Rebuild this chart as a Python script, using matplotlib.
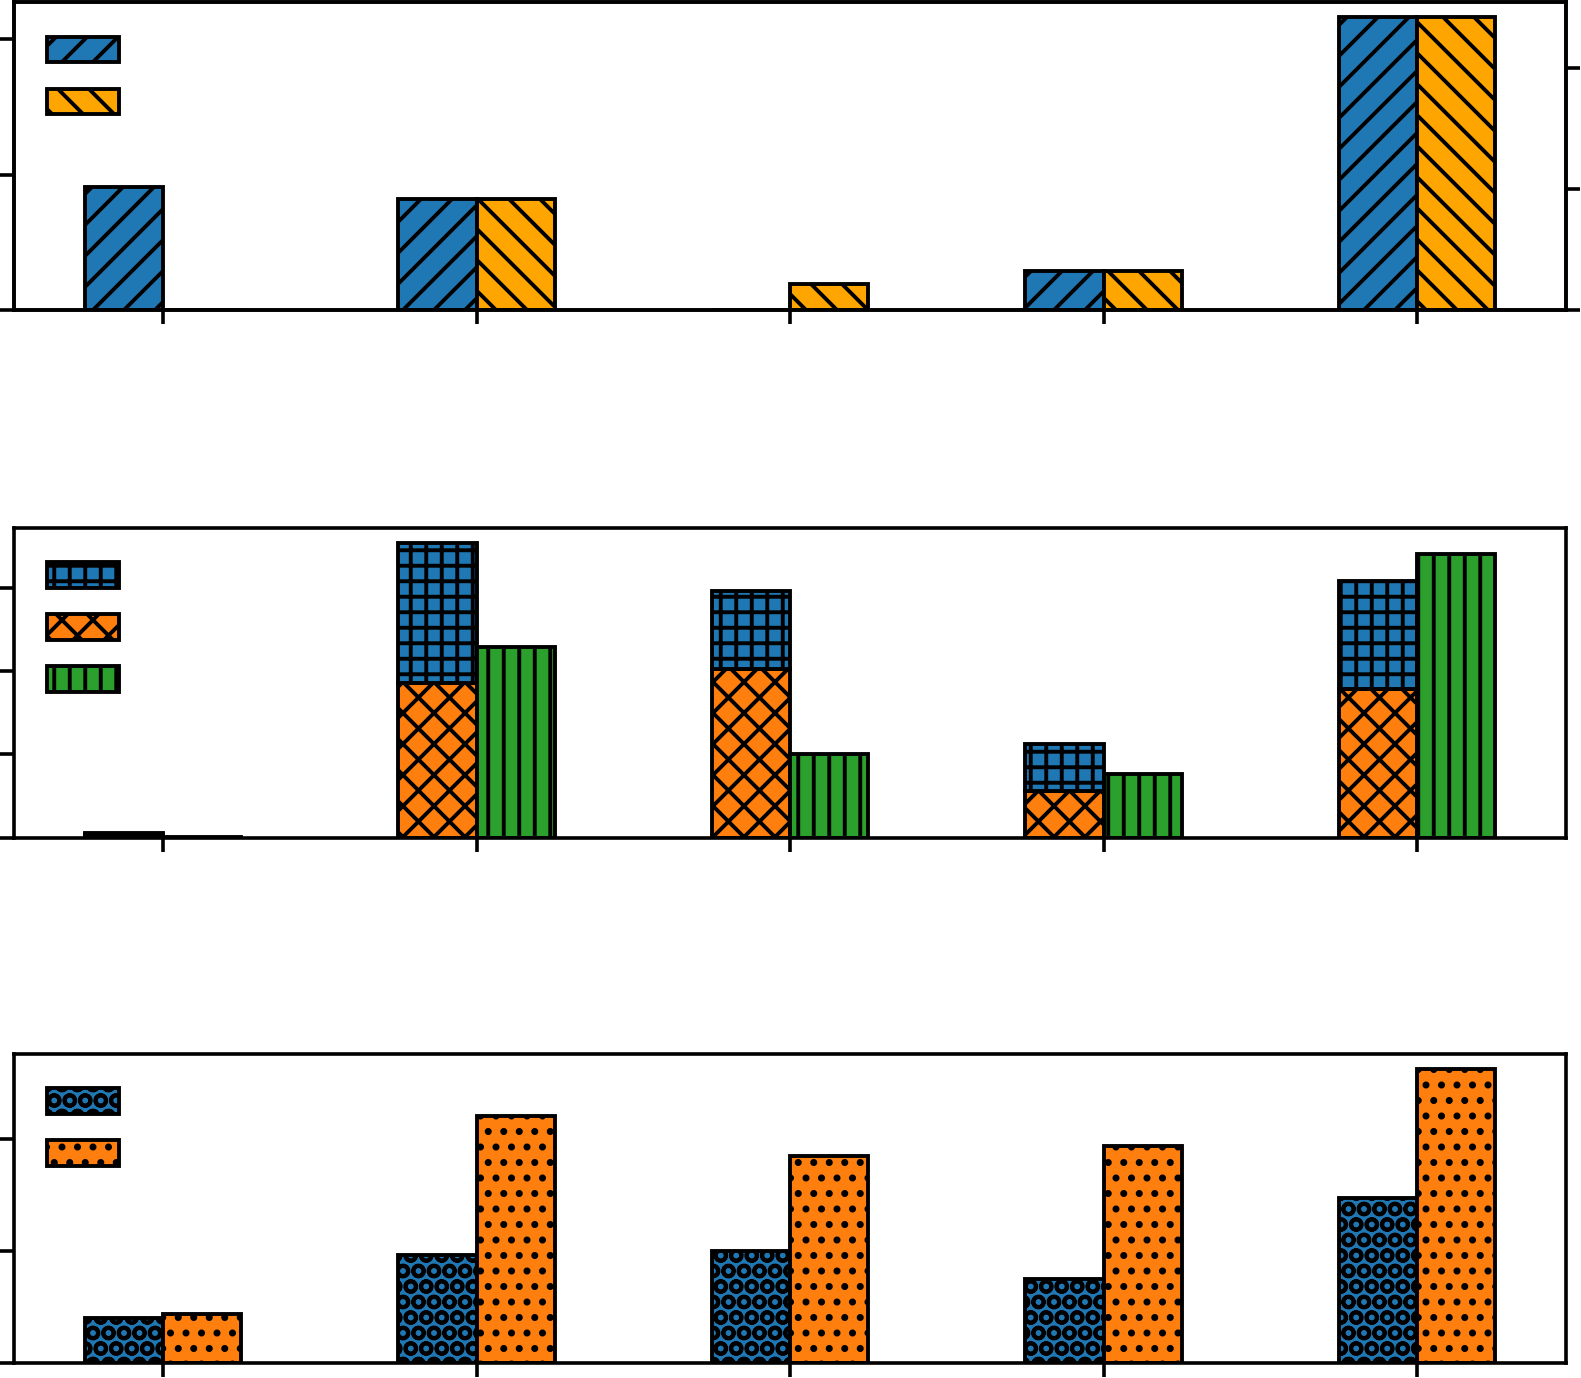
import matplotlib
matplotlib.use('Agg')
import numpy as np
import matplotlib.pyplot as plt

# valeurs (unites = pas des graduations)
groupes = [0, 1, 2, 3, 4]

haut_bleu = [0.91, 0.82, 0.0, 0.29, 2.165]
haut_orange = [0.0, 0.917, 0.218, 0.325, 2.42]

milieu_orange = [0.03, 1.86, 2.02, 0.556, 1.78]
milieu_bleu = [0.03, 1.68, 0.94, 0.57, 1.30]
milieu_vert = [0.01, 2.285, 1.0, 0.76, 3.40]

bas_bleu = [0.40, 0.964, 1.0, 0.748, 1.477]
bas_orange = [0.44, 2.207, 1.847, 1.937, 2.63]

plt.rcParams['hatch.linewidth'] = 1.5
plt.rcParams['axes.linewidth'] = 1.4

largeur = 0.25
x = np.array(groupes)
lw = 1.5

fig = plt.figure(figsize=(1581 / 186, 1378 / 186), dpi=186)
gauche, droite = 0.0089, 0.9905
ax1 = fig.add_axes([gauche, 0.775, droite - gauche, 0.2233])
ax2 = fig.add_axes([gauche, 0.392, droite - gauche, 0.2248])
ax3 = fig.add_axes([gauche, 0.0111, droite - gauche, 0.2240])


def reglages(ax, yt):
    ax.set_xticks(x)
    ax.set_yticks(yt)
    ax.tick_params(length=5.5, width=1.4, labelbottom=False, labelleft=False,
                   labelright=False)


# Graphique du haut : deux axes y
b1 = ax1.bar(x - largeur / 2, haut_bleu, largeur, color='#1f77b4',
             edgecolor='black', linewidth=lw, hatch='//')
ax1b = ax1.twinx()
b2 = ax1b.bar(x + largeur / 2, haut_orange, largeur, color='orange',
              edgecolor='black', linewidth=lw, hatch='\\\\')
reglages(ax1, [0, 1, 2])
reglages(ax1b, [0, 1, 2])
ax1.legend([b1, b2], ['', ''], loc='upper left', frameon=False, fontsize=14)

# Graphique du milieu : barres empilees
c1 = ax2.bar(x - largeur / 2, milieu_orange, largeur, color='#ff7f0e',
             edgecolor='black', linewidth=lw, hatch='xx')
c2 = ax2.bar(x - largeur / 2, milieu_bleu, largeur, bottom=milieu_orange,
             color='#1f77b4', edgecolor='black', linewidth=lw, hatch='++')
c3 = ax2.bar(x + largeur / 2, milieu_vert, largeur, color='#2ca02c',
             edgecolor='black', linewidth=lw, hatch='||')
reglages(ax2, [0, 1, 2, 3])
ax2.legend([c2, c1, c3], ['', '', ''], loc='upper left', frameon=False,
           fontsize=14)

# Graphique du bas
d1 = ax3.bar(x - largeur / 2, bas_bleu, largeur, color='#1f77b4',
             edgecolor='black', linewidth=lw, hatch='OO')
d2 = ax3.bar(x + largeur / 2, bas_orange, largeur, color='#ff7f0e',
             edgecolor='black', linewidth=lw, hatch='..')
reglages(ax3, [0, 1, 2])
ax3.legend([d1, d2], ['', ''], loc='upper left', frameon=False, fontsize=14)

fig.savefig('out.png', dpi=186)
